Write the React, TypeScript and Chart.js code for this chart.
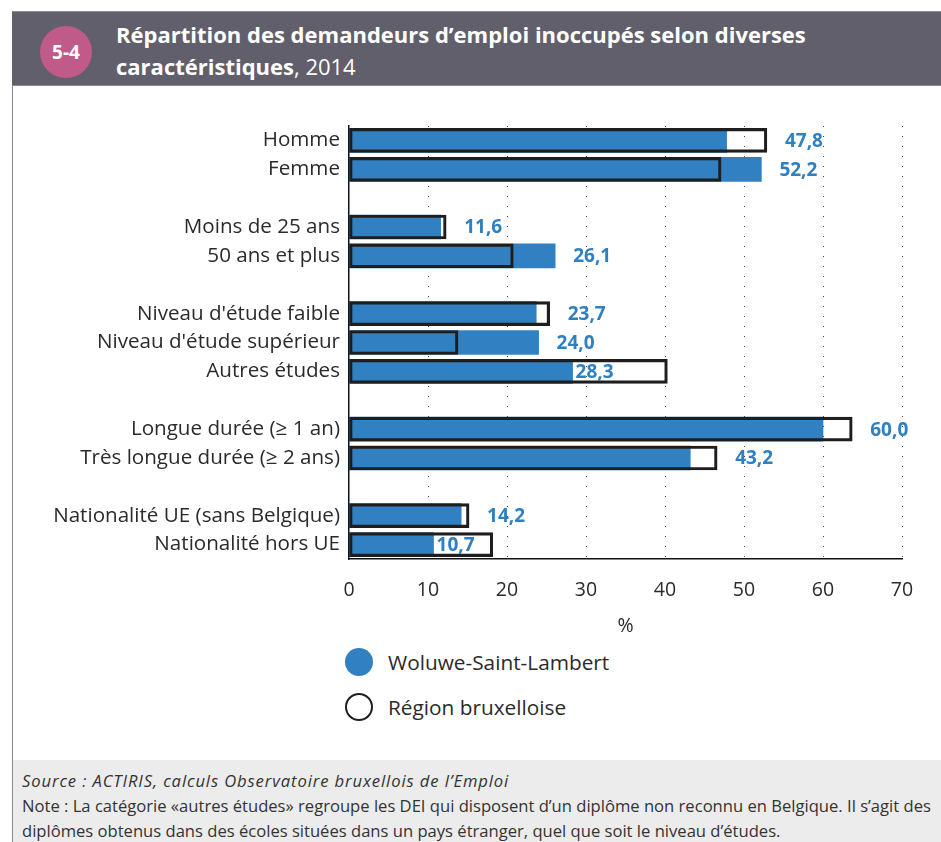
import React, { useEffect, useRef } from "react";
import { Chart, registerables } from "chart.js";

Chart.register(...registerables);

const categories: string[] = [
  "Homme",
  "Femme",
  "",
  "Moins de 25 ans",
  "50 ans et plus",
  "",
  "Niveau d'étude faible",
  "Niveau d'étude supérieur",
  "Autres études",
  "",
  "Longue durée (≥ 1 an)",
  "Très longue durée (≥ 2 ans)",
  "",
  "Nationalité UE (sans Belgique)",
  "Nationalité hors UE",
];

const woluweValues: (number | null)[] = [
  47.8, 52.2, null, 11.6, 26.1, null, 23.7, 24.0, 28.3, null, 60.0, 43.2, null, 14.2, 10.7,
];

const regionValues: (number | null)[] = [
  52.9, 47.1, null, 12.3, 20.8, null, 25.4, 13.8, 40.3, null, 63.7, 46.6, null, 15.2, 18.2,
];

const xTicks: number[] = [0, 10, 20, 30, 40, 50, 60, 70];

const seriesNames: string[] = ["Woluwe-Saint-Lambert", "Région bruxelloise"];

const BLUE = "#3181c2";
const LABEL_BLUE = "#2f80c1";
const FONT = "'Open Sans', 'Noto Sans', sans-serif";

const valueLabelPlugin = {
  id: "valueLabels",
  afterDatasetsDraw(chart: any) {
    const { ctx } = chart;
    const x = chart.scales.x;
    const metaW = chart.getDatasetMeta(0);
    ctx.save();
    ctx.font = `bold 19px ${FONT}`;
    ctx.fillStyle = LABEL_BLUE;
    ctx.textBaseline = "middle";
    ctx.textAlign = "left";
    woluweValues.forEach((v, i) => {
      if (v == null) return;
      const r = regionValues[i] ?? 0;
      const bar = metaW.data[i];
      let px: number;
      if (r - v > 6) {
        px = x.getPixelForValue(v) + 3;
      } else {
        px = x.getPixelForValue(Math.max(v, r)) + 18;
      }
      ctx.fillText(v.toFixed(1).replace(".", ","), px, bar.y + 1);
    });
    ctx.restore();
  },
};

function ChartCanvas() {
  const ref = useRef<HTMLCanvasElement | null>(null);
  useEffect(() => {
    if (!ref.current) return;
    const chart = new Chart(ref.current, {
      type: "bar",
      data: {
        labels: categories,
        datasets: [
          {
            label: seriesNames[0],
            data: woluweValues,
            backgroundColor: BLUE,
            borderWidth: 0,
            barThickness: 24,
            grouped: false,
            order: 1,
          } as any,
          {
            label: seriesNames[1],
            data: regionValues,
            backgroundColor: "rgba(0,0,0,0)",
            borderColor: "#1e1e1e",
            borderWidth: 2.5,
            borderSkipped: false,
            barThickness: 24,
            grouped: false,
            order: 0,
          } as any,
        ],
      },
      options: {
        indexAxis: "y",
        animation: false,
        responsive: true,
        maintainAspectRatio: false,
        layout: { padding: { top: 11, right: 39, left: 0, bottom: 0 } },
        plugins: {
          legend: { display: false },
          tooltip: { enabled: false },
        },
        scales: {
          x: {
            min: 0,
            max: 70,
            afterFit: (s: any) => {
              s.height = 81;
            },
            afterBuildTicks: (s: any) => {
              s.ticks = xTicks.map((v) => ({ value: v }));
            },
            ticks: {
              padding: 20,
              color: "#2a2a2a",
              font: { family: FONT, size: 19.5 },
            },
            grid: {
              drawTicks: false,
              color: (c: any) => (c.tick && c.tick.value === 0 ? "rgba(0,0,0,0)" : "#444"),
              lineWidth: 1,
            },
            border: { display: true, color: "#111", width: 1.5, dash: [1, 9] } as any,
            title: {
              display: true,
              text: "%",
              color: "#2a2a2a",
              font: { family: FONT, size: 19.5 },
              padding: { top: 0, bottom: 2 },
            },
          },
          y: {
            afterFit: (s: any) => {
              s.width = 336;
              s.paddingTop = 0;
              s.paddingBottom = 0;
            },
            ticks: {
              padding: 9,
              color: "#2a2a2a",
              font: { family: FONT, size: 20.6 },
              autoSkip: false,
            },
            grid: { display: false, drawTicks: false },
            border: { display: true, color: "#111", width: 1.5 },
          },
        },
      },
      plugins: [valueLabelPlugin],
    });
    return () => chart.destroy();
  }, []);
  return <canvas ref={ref} />;
}

export default function App() {
  useEffect(() => {
    document.body.style.margin = "0";
  }, []);
  return (
    <div
      style={{
        position: "relative",
        width: 941,
        height: 842,
        background: "#fff",
        fontFamily: FONT,
        overflow: "hidden",
      }}
    >
      {/* Header band */}
      <div
        style={{
          position: "absolute",
          left: 12,
          top: 11,
          width: 929,
          height: 75,
          background: "#625f6c",
          borderTop: "1px solid #8d8b94",
          borderBottom: "1px solid #8d8b94",
          boxSizing: "border-box",
        }}
      />
      <div
        style={{
          position: "absolute",
          left: 40,
          top: 26,
          width: 52,
          height: 52,
          borderRadius: "50%",
          background: "#c05a88",
          color: "#fff",
          fontWeight: 700,
          fontSize: 19,
          display: "flex",
          alignItems: "center",
          justifyContent: "center",
        }}
      >
        5-4
      </div>
      <div
        style={{
          position: "absolute",
          left: 116,
          top: 18,
          color: "#fff",
          fontSize: 22,
          lineHeight: "32px",
          whiteSpace: "nowrap",
        }}
      >
        <div style={{ fontWeight: 700 }}>Répartition des demandeurs d’emploi inoccupés selon diverses</div>
        <div>
          <span style={{ fontWeight: 700 }}>caractéristiques</span>, 2014
        </div>
      </div>
      {/* Left border */}
      <div
        style={{
          position: "absolute",
          left: 12,
          top: 86,
          width: 1,
          height: 760,
          background: "#8a8a8a",
        }}
      />
      {/* Chart */}
      <div style={{ position: "absolute", left: 13, top: 115, width: 928, height: 525 }}>
        <ChartCanvas />
      </div>
      {/* Legend */}
      <div style={{ position: "absolute", left: 345, top: 648, fontSize: 20.8, color: "#2a2a2a" }}>
        <div style={{ display: "flex", alignItems: "center", height: 28 }}>
          <span
            style={{
              display: "inline-block",
              width: 28,
              height: 28,
              borderRadius: "50%",
              background: BLUE,
            }}
          />
          <span style={{ marginLeft: 15 }}>{seriesNames[0]}</span>
        </div>
        <div style={{ display: "flex", alignItems: "center", height: 28, marginTop: 17 }}>
          <span
            style={{
              display: "inline-block",
              width: 28,
              height: 28,
              borderRadius: "50%",
              border: "2.5px solid #1e1e1e",
              boxSizing: "border-box",
            }}
          />
          <span style={{ marginLeft: 15 }}>{seriesNames[1]}</span>
        </div>
      </div>
      {/* Footer */}
      <div
        style={{
          position: "absolute",
          left: 13,
          top: 760,
          width: 928,
          height: 82,
          background: "#ebeceb",
          color: "#333",
          fontSize: 16.6,
          lineHeight: "25px",
          paddingLeft: 9,
          paddingTop: 8,
          boxSizing: "border-box",
          whiteSpace: "nowrap",
        }}
      >
        <div style={{ fontStyle: "italic", letterSpacing: 0.9 }}>
          Source : ACTIRIS, calculs Observatoire bruxellois de l’Emploi
        </div>
        <div>
          Note : La catégorie «autres études» regroupe les DEI qui disposent d’un diplôme non reconnu en Belgique. Il s’agit des
        </div>
        <div>diplômes obtenus dans des écoles situées dans un pays étranger, quel que soit le niveau d’études.</div>
      </div>
    </div>
  );
}
